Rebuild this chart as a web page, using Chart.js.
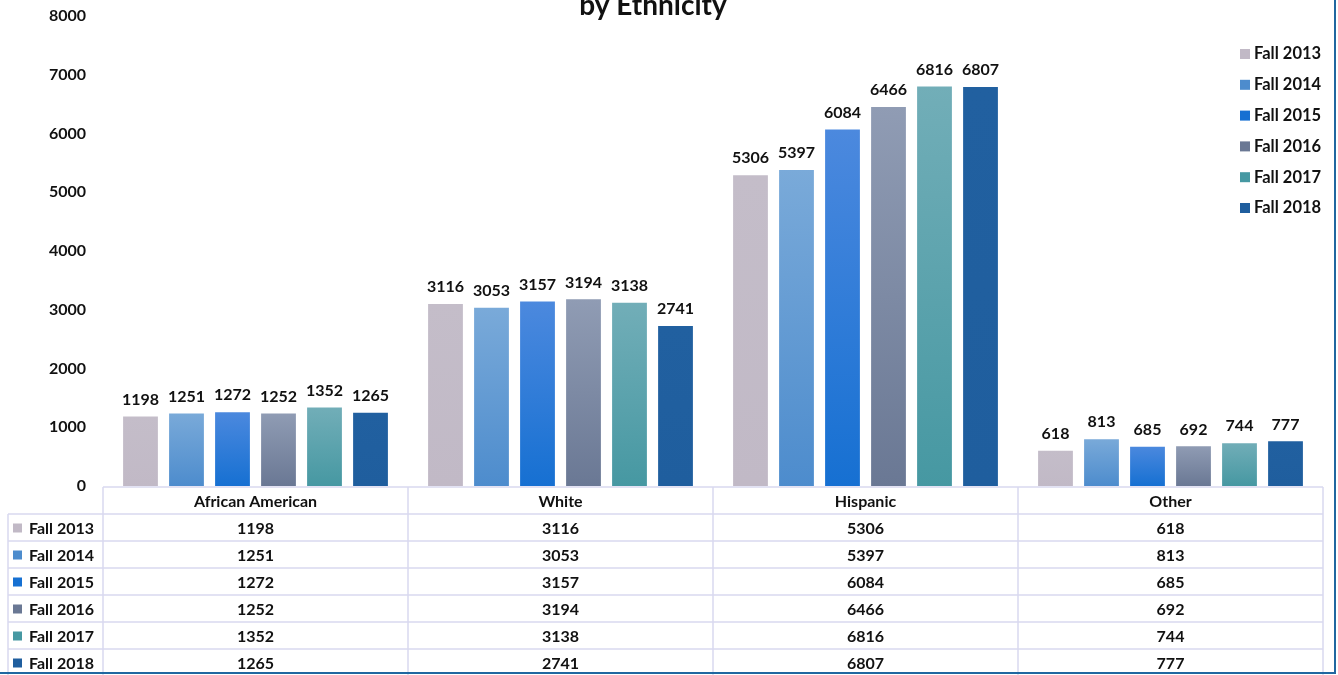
<!DOCTYPE html>
<html>
<head>
<meta charset="utf-8">
<script src="https://cdn.jsdelivr.net/npm/chart.js@4/dist/chart.umd.min.js"></script>
<style>
  html, body { margin: 0; padding: 0; background: #fff; }
  #wrap { position: relative; width: 1338px; height: 675px; overflow: hidden; }
  #frame { position: absolute; left: 0; top: 0; width: 1334px; height: 672px;
           border-right: 2px solid #2067a0; border-bottom: 2px solid #2067a0; pointer-events: none; }
</style>
</head>
<body>
<div id="wrap">
  <canvas id="grafico" width="1338" height="675"></canvas>
  <div id="frame"></div>
</div>
<script>
const categorias = ['African American', 'White', 'Hispanic', 'Other'];
const anos = ['Fall 2013', 'Fall 2014', 'Fall 2015', 'Fall 2016', 'Fall 2017', 'Fall 2018'];
const fall2013 = [1198, 3116, 5306, 618];
const fall2014 = [1251, 3053, 5397, 813];
const fall2015 = [1272, 3157, 6084, 685];
const fall2016 = [1252, 3194, 6466, 692];
const fall2017 = [1352, 3138, 6816, 744];
const fall2018 = [1265, 2741, 6807, 777];
const yTicks = [0, 1000, 2000, 3000, 4000, 5000, 6000, 7000, 8000];
const titulo = 'by Ethnicity';

// cores: [topo, base] do gradiente de cada serie
const cores = [
    ['#c4bdc9', '#c1b9c6'],
    ['#7aaad9', '#4d8ccd'],
    ['#4c89de', '#1670d2'],
    ['#909cb4', '#6a7894'],
    ['#72aeb8', '#4698a2'],
    ['#2160a0', '#1f5e9e']
];
const series = [fall2013, fall2014, fall2015, fall2016, fall2017, fall2018];

const FONTE = 'Lato, "Open Sans", sans-serif';
const corLinha = '#d9d9f0';

function gradienteBarra(i) {
    return (context) => {
        const chart = context.chart;
        const area = chart.chartArea;
        if (!area || context.type !== 'data') {
            return cores[i][0];
        }
        const yScale = chart.scales.y;
        const topo = yScale.getPixelForValue(context.raw);
        const base = yScale.getPixelForValue(0);
        if (!isFinite(topo) || topo === base) {
            return cores[i][0];
        }
        const g = chart.ctx.createLinearGradient(0, topo, 0, base);
        g.addColorStop(0, cores[i][0]);
        g.addColorStop(1, cores[i][1]);
        return g;
    };
}

const datasets = series.map((dados, i) => ({
    label: anos[i],
    data: dados,
    backgroundColor: gradienteBarra(i),
    borderColor: 'rgba(255,255,255,0.6)',
    borderWidth: 1,
    categoryPercentage: 0.905,
    barPercentage: 0.8
}));

const pluginExtras = {
    id: 'extras',
    afterDatasetsDraw(chart) {
        const ctx = chart.ctx;
        const area = chart.chartArea;
        const xScale = chart.scales.x;

        ctx.save();

        // rotulos acima das barras
        ctx.fillStyle = '#111';
        ctx.font = 'bold 16px ' + FONTE;
        ctx.textAlign = 'center';
        ctx.textBaseline = 'bottom';
        chart.data.datasets.forEach((ds, i) => {
            const meta = chart.getDatasetMeta(i);
            meta.data.forEach((bar, j) => {
                ctx.fillText(String(ds.data[j]), bar.x, bar.y - 8);
            });
        });

        // titulo cortado no topo
        ctx.font = 'bold 28px ' + FONTE;
        ctx.textBaseline = 'alphabetic';
        ctx.fillText(titulo, 653, 15);

        // legenda a direita
        ctx.font = 'bold 16.5px ' + FONTE;
        ctx.textAlign = 'left';
        ctx.textBaseline = 'middle';
        anos.forEach((ano, i) => {
            const y = 54 + i * 30.8;
            ctx.fillStyle = cores[i][1];
            ctx.fillRect(1240, y - 5, 10, 10);
            ctx.fillStyle = '#111';
            ctx.fillText(ano, 1254, y);
        });

        // tabela de dados
        const larguraCat = xScale.width / categorias.length;
        const topo = area.bottom + 1;
        const alturaLinha = 27;
        const esquerda = 8;
        const direita = area.right;
        const nLinhas = anos.length + 1;

        ctx.strokeStyle = corLinha;
        ctx.lineWidth = 1.5;
        ctx.beginPath();
        // linhas horizontais
        ctx.moveTo(area.left, topo);
        ctx.lineTo(direita, topo);
        for (let r = 1; r <= nLinhas; r++) {
            const y = topo + r * alturaLinha;
            ctx.moveTo(esquerda, y);
            ctx.lineTo(direita, y);
        }
        // linhas verticais
        ctx.moveTo(esquerda, topo + alturaLinha);
        ctx.lineTo(esquerda, topo + (nLinhas + 1) * alturaLinha);
        for (let c = 0; c <= categorias.length; c++) {
            const x = area.left + c * larguraCat;
            ctx.moveTo(x, topo);
            ctx.lineTo(x, topo + (nLinhas + 1) * alturaLinha);
        }
        ctx.stroke();

        ctx.fillStyle = '#111';
        ctx.font = 'bold 16px ' + FONTE;
        ctx.textAlign = 'center';
        ctx.textBaseline = 'middle';
        categorias.forEach((cat, c) => {
            const cx = xScale.getPixelForValue(c);
            ctx.fillText(cat, cx, topo + alturaLinha / 2 + 1);
        });
        anos.forEach((ano, r) => {
            const cy = topo + (r + 1) * alturaLinha + alturaLinha / 2 + 1;
            ctx.fillStyle = cores[r][1];
            ctx.fillRect(13, cy - 5, 9, 9);
            ctx.fillStyle = '#111';
            ctx.textAlign = 'left';
            ctx.fillText(ano, 29, cy);
            ctx.textAlign = 'center';
            series[r].forEach((v, c) => {
                ctx.fillText(String(v), xScale.getPixelForValue(c), cy);
            });
        });

        ctx.restore();
    }
};

new Chart(document.getElementById('grafico'), {
    type: 'bar',
    data: { labels: categorias, datasets: datasets },
    options: {
        responsive: false,
        animation: false,
        layout: { padding: { top: 16, bottom: 189, right: 15, left: 0 } },
        plugins: {
            legend: { display: false },
            title: { display: false },
            tooltip: { enabled: false }
        },
        scales: {
            x: { display: false },
            y: {
                min: 0,
                max: 8000,
                afterFit: (s) => {
                    s.width = 103;
                    s.paddingTop = 0;
                    s.paddingBottom = 0;
                },
                afterBuildTicks: (s) => { s.ticks = yTicks.map((v) => ({ value: v })); },
                grid: { display: false },
                border: { display: false },
                ticks: {
                    padding: 9,
                    color: '#111',
                    font: { family: FONTE, size: 16, weight: 'bold' },
                    callback: (v) => String(v)
                }
            }
        }
    },
    plugins: [pluginExtras]
});
</script>
</body>
</html>
